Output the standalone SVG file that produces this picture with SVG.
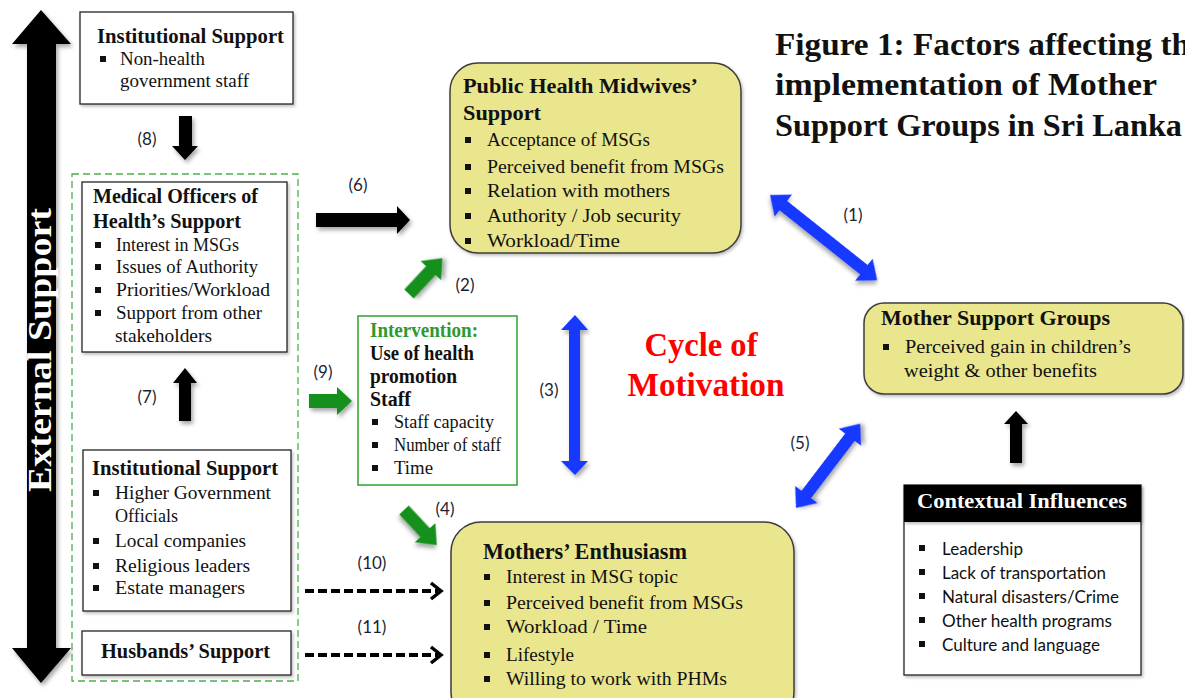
<svg xmlns="http://www.w3.org/2000/svg" width="1185" height="698" viewBox="0 0 1185 698">
<style>
.t{font-family:"Liberation Serif","Times New Roman",serif;fill:#111}
.b{font-weight:bold}
.r{font-size:19px}
.h{font-size:21px;font-weight:bold}
.s{font-family:Lato,"Liberation Sans",Arial,sans-serif;font-size:17.5px;fill:#111}
.lab{font-family:Lato,"Liberation Sans",Arial,sans-serif;font-size:17px;fill:#1c1f33}
.box{fill:#fff;stroke:#222;stroke-width:1.3}
.yel{fill:#EAE68D;stroke:#3c3c3c;stroke-width:1.5}
.blk{fill:#000}
.grn{fill:#15901a}
.blu{fill:#1537ff}
.dash{stroke:#000;stroke-width:4;stroke-dasharray:9 4;fill:none}
.chev{stroke:#000;stroke-width:3.5;fill:none;stroke-linejoin:miter}
</style>
<defs>
<filter id="sh" x="-20%" y="-20%" width="140%" height="140%">
<feDropShadow dx="2" dy="3" stdDeviation="2" flood-color="#000" flood-opacity="0.35"/>
</filter>
<filter id="sh2" x="-10%" y="-10%" width="120%" height="120%">
<feDropShadow dx="1.5" dy="2" stdDeviation="1.5" flood-color="#000" flood-opacity="0.25"/>
</filter>
<rect id="bul" width="6" height="6" fill="#111"/>
</defs>
<rect width="1185" height="698" fill="#fff"/>

<g id="external-support">
<polygon class="blk" filter="url(#sh)" points="41,10 71,44 56,44 56,648 71,648 41,683 12,648 27,648 27,44 12,44"/>
<text class="t b" transform="translate(51,350) rotate(-90)" text-anchor="middle" font-size="33" style="fill:#fff" textLength="284" lengthAdjust="spacingAndGlyphs">External  Support</text>
</g>

<g id="title">
<text class="t b" x="775" y="55" font-size="32" textLength="415" lengthAdjust="spacingAndGlyphs">Figure 1: Factors affecting th</text>
<text class="t b" x="775" y="95" font-size="32" textLength="382" lengthAdjust="spacingAndGlyphs">implementation of Mother</text>
<text class="t b" x="775" y="136" font-size="32" textLength="407" lengthAdjust="spacingAndGlyphs">Support Groups in Sri Lanka</text>
</g>

<g id="external-group">
<rect x="72" y="174" width="226" height="507" fill="none" stroke="#4bb04b" stroke-width="1.3" stroke-dasharray="7 4"/>
</g>

<g id="inst-top">
<rect class="box" filter="url(#sh2)" x="80" y="12" width="213" height="92"/>
<text class="t h" x="97" y="43" textLength="187" lengthAdjust="spacingAndGlyphs">Institutional Support</text>
<use href="#bul" x="100" y="56"/>
<text class="t r" x="120" y="65" textLength="85" lengthAdjust="spacingAndGlyphs">Non-health</text>
<text class="t r" x="120" y="87" textLength="129" lengthAdjust="spacingAndGlyphs">government staff</text>
</g>

<g id="moh">
<rect class="box" filter="url(#sh2)" x="82" y="182" width="205" height="170"/>
<text class="t h" x="93" y="203" textLength="165" lengthAdjust="spacingAndGlyphs">Medical Officers of</text>
<text class="t h" x="93" y="228" textLength="148" lengthAdjust="spacingAndGlyphs">Health’s Support</text>
<use href="#bul" x="95" y="242"/>
<text class="t r" x="116" y="251" textLength="123" lengthAdjust="spacingAndGlyphs">Interest in MSGs</text>
<use href="#bul" x="95" y="264"/>
<text class="t r" x="116" y="273" textLength="142" lengthAdjust="spacingAndGlyphs">Issues of Authority</text>
<use href="#bul" x="95" y="287"/>
<text class="t r" x="116" y="296" textLength="154" lengthAdjust="spacingAndGlyphs">Priorities/Workload</text>
<use href="#bul" x="95" y="310"/>
<text class="t r" x="116" y="319" textLength="146" lengthAdjust="spacingAndGlyphs">Support from other</text>
<text class="t r" x="115" y="342" textLength="97" lengthAdjust="spacingAndGlyphs">stakeholders</text>
</g>

<g id="inst-low">
<rect class="box" filter="url(#sh2)" x="83" y="450" width="208" height="161"/>
<text class="t h" x="92" y="475" textLength="186" lengthAdjust="spacingAndGlyphs">Institutional Support</text>
<use href="#bul" x="93" y="490"/>
<text class="t r" x="115" y="499" textLength="156" lengthAdjust="spacingAndGlyphs">Higher Government</text>
<text class="t r" x="115" y="522" textLength="63" lengthAdjust="spacingAndGlyphs">Officials</text>
<use href="#bul" x="93" y="538"/>
<text class="t r" x="115" y="547" textLength="131" lengthAdjust="spacingAndGlyphs">Local companies</text>
<use href="#bul" x="93" y="563"/>
<text class="t r" x="115" y="572" textLength="135" lengthAdjust="spacingAndGlyphs">Religious leaders</text>
<use href="#bul" x="93" y="585"/>
<text class="t r" x="115" y="594" textLength="130" lengthAdjust="spacingAndGlyphs">Estate managers</text>
</g>

<g id="husbands">
<rect class="box" filter="url(#sh2)" x="82" y="631" width="209" height="44"/>
<text class="t h" x="101" y="658" textLength="169" lengthAdjust="spacingAndGlyphs">Husbands’ Support</text>
</g>

<g id="intervention">
<rect x="358" y="316" width="159" height="169" fill="#fff" stroke="#2ea32e" stroke-width="1.5"/>
<text class="t b" x="370" y="337" font-size="20" style="fill:#2e9a2e" textLength="108" lengthAdjust="spacingAndGlyphs">Intervention:</text>
<text class="t b" x="370" y="360" font-size="20" textLength="104" lengthAdjust="spacingAndGlyphs">Use of health</text>
<text class="t b" x="370" y="383" font-size="20" textLength="87" lengthAdjust="spacingAndGlyphs">promotion</text>
<text class="t b" x="370" y="406" font-size="20" textLength="41" lengthAdjust="spacingAndGlyphs">Staff</text>
<use href="#bul" x="372" y="419"/>
<text class="t r" x="394" y="428" textLength="100" lengthAdjust="spacingAndGlyphs">Staff capacity</text>
<use href="#bul" x="372" y="442"/>
<text class="t r" x="394" y="451" textLength="107" lengthAdjust="spacingAndGlyphs">Number of staff</text>
<use href="#bul" x="372" y="465"/>
<text class="t r" x="394" y="474" textLength="39" lengthAdjust="spacingAndGlyphs">Time</text>
</g>

<g id="phm">
<rect class="yel" filter="url(#sh2)" x="450" y="63" width="291" height="190" rx="28"/>
<text class="t h" x="463" y="93" textLength="235" lengthAdjust="spacingAndGlyphs">Public Health Midwives’</text>
<text class="t h" x="463" y="120" textLength="78" lengthAdjust="spacingAndGlyphs">Support</text>
<use href="#bul" x="465" y="137"/>
<text class="t r" x="487" y="146" textLength="163" lengthAdjust="spacingAndGlyphs">Acceptance of MSGs</text>
<use href="#bul" x="465" y="164"/>
<text class="t r" x="487" y="173" textLength="237" lengthAdjust="spacingAndGlyphs">Perceived benefit from MSGs</text>
<use href="#bul" x="465" y="188"/>
<text class="t r" x="487" y="197" textLength="183" lengthAdjust="spacingAndGlyphs">Relation with mothers</text>
<use href="#bul" x="465" y="213"/>
<text class="t r" x="487" y="222" textLength="194" lengthAdjust="spacingAndGlyphs">Authority / Job security</text>
<use href="#bul" x="465" y="238"/>
<text class="t r" x="487" y="247" textLength="133" lengthAdjust="spacingAndGlyphs">Workload/Time</text>
</g>

<g id="msg">
<rect class="yel" filter="url(#sh2)" x="864" y="303" width="319" height="91" rx="20"/>
<text class="t b" x="881" y="325" font-size="22" textLength="229" lengthAdjust="spacingAndGlyphs">Mother Support Groups</text>
<use href="#bul" x="883" y="344"/>
<text class="t r" x="905" y="353" textLength="226" lengthAdjust="spacingAndGlyphs">Perceived gain in children’s</text>
<text class="t r" x="904" y="377" textLength="193" lengthAdjust="spacingAndGlyphs">weight &amp; other benefits</text>
</g>

<g id="mothers">
<rect class="yel" filter="url(#sh2)" x="451" y="522" width="343" height="200" rx="30"/>
<text class="t b" x="483" y="559" font-size="23" textLength="204" lengthAdjust="spacingAndGlyphs">Mothers’ Enthusiasm</text>
<use href="#bul" x="484" y="574"/>
<text class="t r" x="506" y="583" textLength="172" lengthAdjust="spacingAndGlyphs">Interest in MSG topic</text>
<use href="#bul" x="484" y="600"/>
<text class="t r" x="506" y="609" textLength="237" lengthAdjust="spacingAndGlyphs">Perceived benefit from MSGs</text>
<use href="#bul" x="484" y="624"/>
<text class="t r" x="506" y="633" textLength="141" lengthAdjust="spacingAndGlyphs">Workload / Time</text>
<use href="#bul" x="484" y="652"/>
<text class="t r" x="506" y="661" textLength="68" lengthAdjust="spacingAndGlyphs">Lifestyle</text>
<use href="#bul" x="484" y="676"/>
<text class="t r" x="506" y="685" textLength="221" lengthAdjust="spacingAndGlyphs">Willing to work with PHMs</text>
</g>

<g id="contextual">
<rect class="box" filter="url(#sh2)" x="904" y="485" width="237" height="190"/>
<rect x="904" y="485" width="237" height="37" fill="#000" filter="url(#sh2)"/>
<text class="t b" x="917" y="508" font-size="21" style="fill:#fff" textLength="210" lengthAdjust="spacingAndGlyphs">Contextual Influences</text>
<use href="#bul" x="919" y="545"/>
<text class="s" x="942" y="555" textLength="81" lengthAdjust="spacingAndGlyphs">Leadership</text>
<use href="#bul" x="919" y="569"/>
<text class="s" x="942" y="579" textLength="164" lengthAdjust="spacingAndGlyphs">Lack of transportation</text>
<use href="#bul" x="919" y="593"/>
<text class="s" x="942" y="603" textLength="177" lengthAdjust="spacingAndGlyphs">Natural disasters/Crime</text>
<use href="#bul" x="919" y="617"/>
<text class="s" x="942" y="627" textLength="170" lengthAdjust="spacingAndGlyphs">Other health programs</text>
<use href="#bul" x="919" y="641"/>
<text class="s" x="942" y="651" textLength="158" lengthAdjust="spacingAndGlyphs">Culture and language</text>
</g>

<g id="cycle">
<text class="t b" x="701" y="356" font-size="34" text-anchor="middle" style="fill:#ff0000" textLength="113" lengthAdjust="spacingAndGlyphs">Cycle of</text>
<text class="t b" x="706" y="396" font-size="34" text-anchor="middle" style="fill:#ff0000" textLength="157" lengthAdjust="spacingAndGlyphs">Motivation</text>
</g>

<g id="connectors">
<polygon class="blk" filter="url(#sh)" points="179,116 192,116 192,146 198,146 185,160 172,146 179,146"/>
<polygon class="blk" filter="url(#sh)" points="179,421 191,421 191,383 197,383 185,368 173,383 179,383"/>
<polygon class="blk" filter="url(#sh)" points="316,213 397,213 397,206 410,220 397,234 397,227 316,227"/>
<polygon class="blk" filter="url(#sh)" points="1010,463 1022,463 1022,424 1028,424 1016,411 1004,424 1010,424"/>
<polygon class="grn" filter="url(#sh)" points="309,394 337,394 337,387 352,401 337,415 337,408 309,408"/>
<polygon class="grn" filter="url(#sh)" transform="translate(409,294) rotate(-47)" points="0,-6.5 32,-6.5 32,-14 49,0 32,14 32,6.5 0,6.5"/>
<polygon class="grn" filter="url(#sh)" transform="translate(404,510) rotate(47)" points="0,-6.5 31,-6.5 31,-14 48,0 31,14 31,6.5 0,6.5"/>
<polygon class="blu" filter="url(#sh)" points="575,315 588,330 580,330 580,461 588,461 575,475 561,461 569,461 569,330 561,330"/>
<polygon class="blu" filter="url(#sh)" transform="translate(770,195) rotate(38.5)" points="0,0 17,-14 17,-6 120,-6 120,-14 137,0 120,14 120,6 17,6 17,14"/>
<polygon class="blu" filter="url(#sh)" transform="translate(796,508) rotate(-52.7)" points="0,0 17,-14 17,-6 89,-6 89,-14 106,0 89,14 89,6 17,6 17,14"/>
<line class="dash" x1="305" y1="591" x2="438" y2="591"/>
<polyline class="chev" points="431,583 441,591 431,599"/>
<line class="dash" x1="305" y1="655" x2="438" y2="655"/>
<polyline class="chev" points="431,647 441,655 431,663"/>
<text class="lab" x="853" y="221" text-anchor="middle">(1)</text>
<text class="lab" x="465" y="291" text-anchor="middle">(2)</text>
<text class="lab" x="549" y="396" text-anchor="middle">(3)</text>
<text class="lab" x="445" y="515" text-anchor="middle">(4)</text>
<text class="lab" x="800" y="449" text-anchor="middle">(5)</text>
<text class="lab" x="358" y="191" text-anchor="middle">(6)</text>
<text class="lab" x="147" y="403" text-anchor="middle">(7)</text>
<text class="lab" x="147" y="145" text-anchor="middle">(8)</text>
<text class="lab" x="323" y="378" text-anchor="middle">(9)</text>
<text class="lab" x="372" y="569" text-anchor="middle">(10)</text>
<text class="lab" x="372" y="633" text-anchor="middle">(11)</text>
</g>
</svg>
